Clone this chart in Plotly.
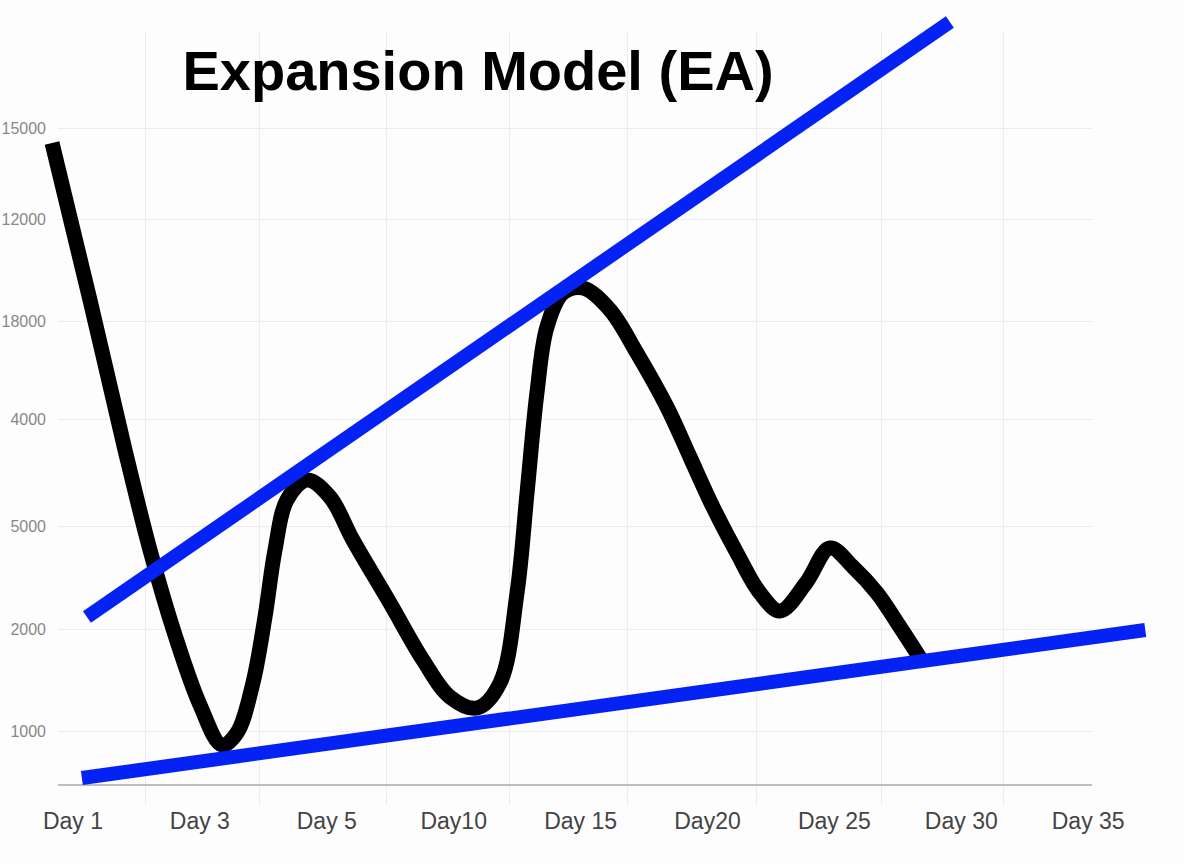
import plotly.graph_objects as go

# x axis: one slot per day label, y axis: chart level units
day_labels = ["Day 1", "Day 3", "Day 5", "Day10", "Day 15", "Day20", "Day 25", "Day 30", "Day 35"]
day_slots = [0, 1, 2, 3, 4, 5, 6, 7, 8]
grid_slots = [0.57, 1.47, 2.47, 3.44, 4.37, 5.39, 6.37, 7.33]

level_labels = ["1000", "2000", "5000", "4000", "18000", "12000", "15000"]
level_vals = [0.54, 1.56, 2.59, 3.66, 4.64, 5.66, 6.57]

# price path
price_x = [-0.165, 0.134, 0.410, 0.607, 0.804, 1.001, 1.174, 1.292, 1.418, 1.513,
           1.592, 1.686, 1.844, 2.025, 2.206, 2.498, 2.758, 2.971, 3.184, 3.365,
           3.499, 3.578, 3.656, 3.735, 3.861, 4.019, 4.232, 4.444, 4.681, 4.862,
           5.043, 5.232, 5.414, 5.571, 5.776, 5.965, 6.147, 6.336, 6.517, 6.675]
price_y = [6.42, 4.85, 3.35, 2.35, 1.50, 0.80, 0.40, 0.52, 1.02, 1.68,
           2.35, 2.85, 3.05, 2.88, 2.45, 1.82, 1.25, 0.88, 0.77, 1.02,
           1.92, 2.92, 3.92, 4.58, 4.92, 4.97, 4.75, 4.32, 3.78, 3.28,
           2.78, 2.32, 1.92, 1.74, 2.02, 2.37, 2.18, 1.92, 1.58, 1.27]

# trend lines
upper_x = [0.11, 6.91]
upper_y = [1.68, 7.63]
lower_x = [0.07, 8.45]
lower_y = [0.07, 1.55]

W, H = 1184, 864
x_dom = [58 / W, 1092 / W]
y_dom = [(H - 805) / H, (H - 32) / H]
x_rng = [-0.118, 8.03]
y_rng = [-0.2, 7.53]


def full_range(rng, dom):
    # range of an axis spanning the whole figure with the same scale
    span = (rng[1] - rng[0]) / (dom[1] - dom[0])
    return [rng[0] - dom[0] * span, rng[1] + (1 - dom[1]) * span]


blue = "#0522F5"
fig = go.Figure()
# empty trace so the gridded main axes get drawn
fig.add_trace(go.Scatter(x=[], y=[], mode="lines", hoverinfo="skip"))
# the lines run past the grid, so they sit on a full-size pair of axes
fig.add_trace(go.Scatter(x=price_x, y=price_y, mode="lines", xaxis="x2", yaxis="y2",
                         line=dict(color="black", width=15, shape="spline", smoothing=1)))
fig.add_trace(go.Scatter(x=upper_x, y=upper_y, mode="lines", xaxis="x2", yaxis="y2",
                         line=dict(color=blue, width=14)))
fig.add_trace(go.Scatter(x=lower_x, y=lower_y, mode="lines", xaxis="x2", yaxis="y2",
                         line=dict(color=blue, width=14)))

fig.update_layout(
    width=W, height=H, autosize=False,
    margin=dict(l=0, r=0, t=0, b=0, pad=0),
    showlegend=False,
    paper_bgcolor="#fdfdfd", plot_bgcolor="rgba(0,0,0,0)",
    font=dict(family="Liberation Sans, Arial, sans-serif"),
    title=dict(text="<b>Expansion Model (EA)</b>", x=478 / W, xanchor="center",
               y=1 - 70 / H, yanchor="middle",
               font=dict(size=56, color="black", family="Liberation Sans, Arial, sans-serif")),
    xaxis=dict(domain=x_dom, range=x_rng, fixedrange=True, automargin=False,
               tickmode="array", tickvals=day_slots, ticktext=day_labels,
               showgrid=False, zeroline=False, showline=False, ticks="",
               tickfont=dict(size=23, color="#444"),
               minor=dict(tickmode="array", tickvals=grid_slots, showgrid=True,
                          gridcolor="#ececec", gridwidth=1, ticks="")),
    yaxis=dict(domain=y_dom, range=y_rng, fixedrange=True, automargin=False,
               tickmode="array", tickvals=level_vals, ticktext=level_labels,
               showgrid=True, gridcolor="#ececec", gridwidth=1,
               zeroline=True, zerolinecolor="#bdbdbd", zerolinewidth=2,
               showline=False, ticks="", ticklabelstandoff=11,
               tickfont=dict(size=16, color="#888")),
    xaxis2=dict(domain=[0, 1], range=full_range(x_rng, x_dom), anchor="y2",
                visible=False, fixedrange=True, automargin=False),
    yaxis2=dict(domain=[0, 1], range=full_range(y_rng, y_dom), anchor="x2",
                visible=False, fixedrange=True, automargin=False),
)

# drop the page's default body margin so the figure fills the window
fig.write_html("out.html", config={"displayModeBar": False},
               post_script="document.body.style.margin = '0px';")
